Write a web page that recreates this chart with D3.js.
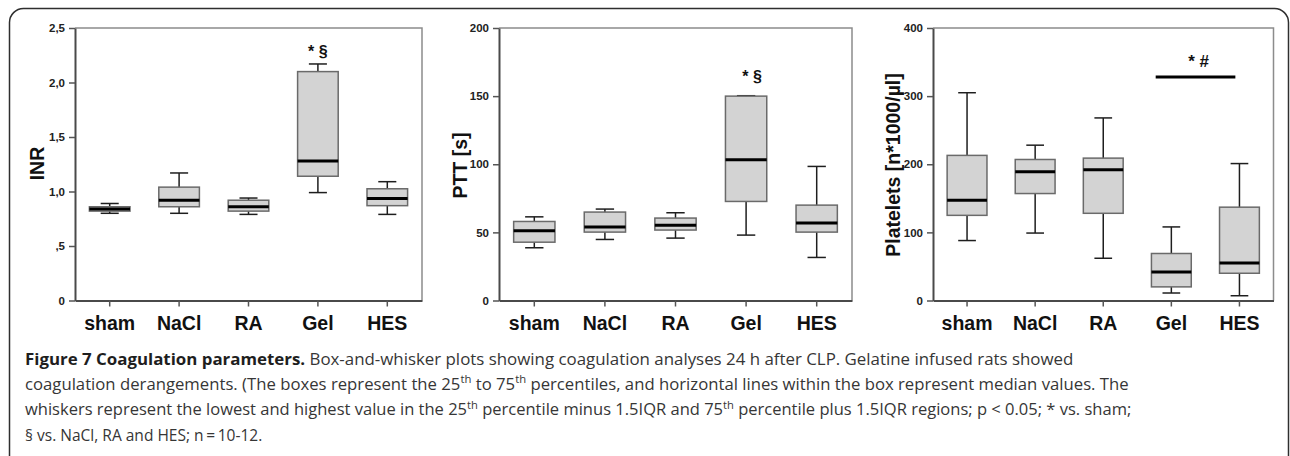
<!DOCTYPE html>
<html><head><meta charset="utf-8">
<script src="https://cdn.jsdelivr.net/npm/d3@7"></script>
<style>body{margin:0;background:#fff} svg{display:block}</style>
</head><body>
<svg id="c" width="1290" height="456"></svg>
<script>
// ---------- data ----------
const categories = ["sham", "NaCl", "RA", "Gel", "HES"];

const inrLow  = [0.80, 0.80, 0.79, 0.99, 0.79];
const inrQ1   = [0.82, 0.86, 0.82, 1.14, 0.87];
const inrMed  = [0.84, 0.92, 0.86, 1.28, 0.935];
const inrQ3   = [0.86, 1.04, 0.92, 2.10, 1.025];
const inrHigh = [0.89, 1.17, 0.94, 2.17, 1.09];
const inrTicks = [0, 0.5, 1.0, 1.5, 2.0, 2.5];
const inrTickLabels = ["0", ",5", "1,0", "1,5", "2,0", "2,5"];

const pttLow  = [38.7, 44.8, 45.8, 48.0, 31.6];
const pttQ1   = [42.8, 50.2, 51.7, 72.7, 50.2];
const pttMed  = [51.2, 53.9, 55.3, 103.3, 56.8];
const pttQ3   = [58.0, 64.9, 60.5, 150.0, 70.0];
const pttHigh = [61.4, 67.1, 64.4, 150.3, 98.4];
const pttTicks = [0, 50, 100, 150, 200];
const pttTickLabels = ["0", "50", "100", "150", "200"];

const pltLow  = [88, 99, 62, 11, 7];
const pltQ1   = [125, 157, 128, 20, 40];
const pltMed  = [147, 189, 192, 42, 55];
const pltQ3   = [213, 207, 209, 69, 137];
const pltHigh = [305, 228, 268, 108, 201];
const pltTicks = [0, 100, 200, 300, 400];
const pltTickLabels = ["0", "100", "200", "300", "400"];

const captionLines = [
  [{t:"Figure 7 Coagulation parameters.", b:true}, {t:" Box-and-whisker plots showing coagulation analyses 24 h after CLP. Gelatine infused rats showed"}],
  [{t:"coagulation derangements. (The boxes represent the 25"}, {t:"th", s:true}, {t:" to 75"}, {t:"th", s:true}, {t:" percentiles, and horizontal lines within the box represent median values. The"}],
  [{t:"whiskers represent the lowest and highest value in the 25"}, {t:"th", s:true}, {t:" percentile minus 1.5IQR and 75"}, {t:"th", s:true}, {t:" percentile plus 1.5IQR regions; p < 0.05; * vs. sham;"}],
  [{t:"§ vs. NaCl, RA and HES; n\u2009=\u200910-12."}]
];

// ---------- drawing ----------
const svg = d3.select("#c");
const AX = "'Liberation Sans', Arial, Helvetica, sans-serif";

svg.append("rect")
  .attr("x", 9.5).attr("y", 8.5).attr("width", 1279).attr("height", 480)
  .attr("rx", 14).attr("fill", "none").attr("stroke", "#2e2e2e").attr("stroke-width", 1.5);

const plotTop = 28, plotBottom = 300.5;

const panels = [
  {left: 75, right: 422, domain: [0, 2.5], ticks: inrTicks, labels: inrTickLabels,
   low: inrLow, q1: inrQ1, med: inrMed, q3: inrQ3, high: inrHigh,
   title: "INR", titleX: 43.5, titleY: 163.5,
   sig: {text: "* §", cat: "Gel", dx: 0, y: 56.7}},
  {left: 499, right: 852, domain: [0, 200], ticks: pttTicks, labels: pttTickLabels,
   low: pttLow, q1: pttQ1, med: pttMed, q3: pttQ3, high: pttHigh,
   title: "PTT [s]", titleX: 466.5, titleY: 165.5,
   sig: {text: "* §", cat: "Gel", dx: 6, y: 81.7}},
  {left: 933, right: 1273.5, domain: [0, 400], ticks: pltTicks, labels: pltTickLabels,
   low: pltLow, q1: pltQ1, med: pltMed, q3: pltQ3, high: pltHigh,
   title: "Platelets [n*1000/µl]", titleX: 900, titleY: 165,
   bar: {from: "Gel", to: "HES", value: 328, text: "* #"}}
];

panels.forEach(p => {
  const x = d3.scaleBand().domain(categories).range([p.left, p.right]);
  const y = d3.scaleLinear().domain(p.domain).range([plotBottom, plotTop]);
  const bw = x.bandwidth();
  const g = svg.append("g");

  g.append("path")
    .attr("d", `M${p.left},${plotTop}H${p.right}V${plotBottom}`)
    .attr("fill", "none").attr("stroke", "#8c8c8c").attr("stroke-width", 1.5);

  const ya = g.append("g").attr("transform", `translate(${p.left},0)`)
    .call(d3.axisLeft(y).tickValues(p.ticks).tickFormat((d, i) => p.labels[i])
      .tickSize(6).tickSizeOuter(0).tickPadding(4));
  const xa = g.append("g").attr("transform", `translate(0,${plotBottom})`)
    .call(d3.axisBottom(x).tickSize(6).tickSizeOuter(0).tickFormat(""));
  [ya, xa].forEach(a => {
    a.select(".domain").attr("stroke", "#4a4a4a").attr("stroke-width", 2);
    a.selectAll(".tick line").attr("stroke", "#555").attr("stroke-width", 1.5);
  });
  ya.selectAll(".tick text").attr("font-family", AX).attr("font-weight", "bold")
    .attr("font-size", 11.5).attr("fill", "#222");

  g.selectAll("text.cat").data(categories).enter().append("text")
    .attr("class", "cat")
    .attr("x", d => x(d) + bw / 2).attr("y", 330)
    .attr("text-anchor", "middle")
    .attr("font-family", AX).attr("font-weight", "bold").attr("font-size", 19.5)
    .attr("fill", "#111").text(d => d);

  g.append("text")
    .attr("transform", `translate(${p.titleX},${p.titleY}) rotate(-90)`)
    .attr("text-anchor", "middle")
    .attr("font-family", AX).attr("font-weight", "bold").attr("font-size", 19.5)
    .attr("fill", "#111").text(p.title);

  const boxW = bw * 0.585, capW = bw * 0.26;
  categories.forEach((c, i) => {
    const cx = x(c) + bw / 2;
    const wk = g.append("g").attr("stroke", "#1e1e1e").attr("stroke-width", 1.5);
    wk.append("line").attr("x1", cx).attr("x2", cx).attr("y1", y(p.high[i])).attr("y2", y(p.low[i]));
    wk.append("line").attr("x1", cx - capW / 2).attr("x2", cx + capW / 2).attr("y1", y(p.high[i])).attr("y2", y(p.high[i]));
    wk.append("line").attr("x1", cx - capW / 2).attr("x2", cx + capW / 2).attr("y1", y(p.low[i])).attr("y2", y(p.low[i]));
    g.append("rect")
      .attr("x", cx - boxW / 2).attr("width", boxW)
      .attr("y", y(p.q3[i])).attr("height", y(p.q1[i]) - y(p.q3[i]))
      .attr("fill", "#d3d3d3").attr("stroke", "#6a6a6a").attr("stroke-width", 1.5);
    g.append("line")
      .attr("x1", cx - boxW / 2).attr("x2", cx + boxW / 2)
      .attr("y1", y(p.med[i])).attr("y2", y(p.med[i]))
      .attr("stroke", "#000").attr("stroke-width", 3);
  });

  if (p.sig) {
    g.append("text")
      .attr("x", x(p.sig.cat) + bw / 2 + p.sig.dx).attr("y", p.sig.y)
      .attr("text-anchor", "middle")
      .attr("font-family", AX).attr("font-weight", "bold").attr("font-size", 16)
      .attr("fill", "#111").text(p.sig.text);
  }
  if (p.bar) {
    const x1 = x(p.bar.from) + bw * 0.27, x2 = x(p.bar.to) + bw * 0.44;
    const yb = y(p.bar.value);
    g.append("line").attr("x1", x1).attr("x2", x2).attr("y1", yb).attr("y2", yb)
      .attr("stroke", "#000").attr("stroke-width", 3);
    g.append("text")
      .attr("x", (x1 + x2) / 2 + 3).attr("y", yb - 10.5)
      .attr("text-anchor", "middle")
      .attr("font-family", AX).attr("font-weight", "bold").attr("font-size", 17)
      .attr("fill", "#111").text(p.bar.text);
  }
});

// caption: justified lines 1-3 fitted by horizontal scale; last line slightly tighter
const CAPFONT = "'Open Sans', 'Noto Sans', sans-serif";
const capX = 25;
const capBase = [364.5, 389.5, 415, 440.5];
const capWidth = [1048, 1103, 1105.5, null];
const capNodes = captionLines.map(line => {
  const t = svg.append("text")
    .attr("x", 0).attr("y", 0)
    .attr("font-family", CAPFONT)
    .attr("font-size", 16.3).attr("fill", "#363636");
  let raised = false;
  line.forEach(seg => {
    const ts = t.append("tspan").text(seg.t);
    if (seg.b) ts.attr("font-weight", "bold").attr("fill", "#1e1e1e");
    if (seg.s) { ts.attr("font-size", 11).attr("dy", -6.5); raised = true; }
    else if (raised) { ts.attr("dy", 6.5); raised = false; }
  });
  return t;
});
const scales = capNodes.slice(0, 3).map((t, i) => capWidth[i] / t.node().getComputedTextLength());
const lastScale = d3.mean(scales) * 0.93;
capNodes.forEach((t, li) => {
  const s = li < 3 ? scales[li] : lastScale;
  t.attr("transform", `translate(${capX},${capBase[li]}) scale(${s},1)`);
});
</script>
</body></html>
